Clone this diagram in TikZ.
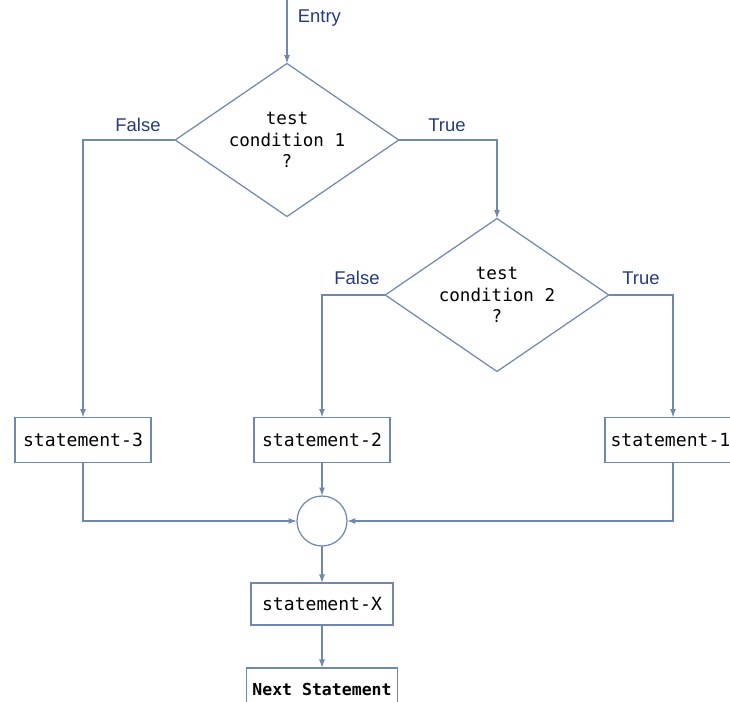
\documentclass[tikz,border=0pt]{standalone}
\usepackage{fontspec}
\setmainfont{Liberation Sans}
\setmonofont{DejaVu Sans Mono}
\usetikzlibrary{positioning, shapes.geometric, arrows.meta}

\definecolor{flowline}{RGB}{112,136,176}
\definecolor{flowlabel}{RGB}{38,58,128}

\begin{document}
\begin{tikzpicture}[
                x = 0.02cm, y = -0.02cm,
   every node/.style = {outer sep=0pt},
                   > = {Latex[length=1.7mm,width=1.2mm]},
         every path/.style = {line width=0.7pt},
        link/.style = {draw=flowline, ->},
        test/.style = {diamond, aspect=1.47, draw=flowline, inner sep=0pt, align=center,
                       minimum width=4.47cm, minimum height=3.06cm,
                       font=\fontsize{10}{12.3}\selectfont\ttfamily},
        stmt/.style = {rectangle, draw=flowline, minimum width=2.72cm, minimum height=0.9cm,
                       font=\fontsize{10.3}{12}\selectfont\ttfamily},
    junction/.style = {circle, draw=flowline, minimum size=1cm, inner sep=0pt},
         tag/.style = {text=flowlabel, font=\fontsize{10.5}{12}\selectfont}
                        ]
\useasboundingbox (0,0) rectangle (730,702);
% decisions
\coordinate (in) at (287,0);
\node (test1) [test] at (287,140) {test\\condition 1\\?};
\node (test2) [test] at (497,295) {test\\condition 2\\?};
% statements
\node (s3) [stmt] at (83,440)  {statement-3};
\node (s2) [stmt] at (322,440) {statement-2};
\node (s1) [stmt, text width=2.5cm, inner xsep=0.11cm, align=left] at (673,440) {statement-1};
\node (merge) [junction] at (322,521) {};
\node (sx)   [stmt, minimum width=2.84cm, minimum height=0.84cm, below=7.4mm of merge] {statement-X};
\node (next) [stmt, minimum width=2.92cm, minimum height=0.88cm, below=8.6mm of sx,
              font=\fontsize{9.4}{11}\selectfont\ttfamily\bfseries] {Next Statement};
% labels
\node [tag, anchor=west] at (292,18)  {Entry};
\node [tag] at (138,125) {False};
\node [tag] at (447,125) {True};
\node [tag] at (357,278) {False};
\node [tag] at (641,278) {True};
% connectors
\draw[link] (in) -- (test1);
\draw[link] (test1.west) -| (s3.north);
\draw[link] (test1.east) -| (test2.north);
\draw[link] (test2.west) -| (s2.north);
\draw[link] (test2.east) -| (s1.north);
\draw[link] (s3.south) |- (merge.west);
\draw[link] (s1.south) |- (merge.east);
\draw[link] (s2) -- (merge);
\draw[link] (merge) -- (sx);
\draw[link] (sx) -- (next);
\end{tikzpicture}
\end{document}
